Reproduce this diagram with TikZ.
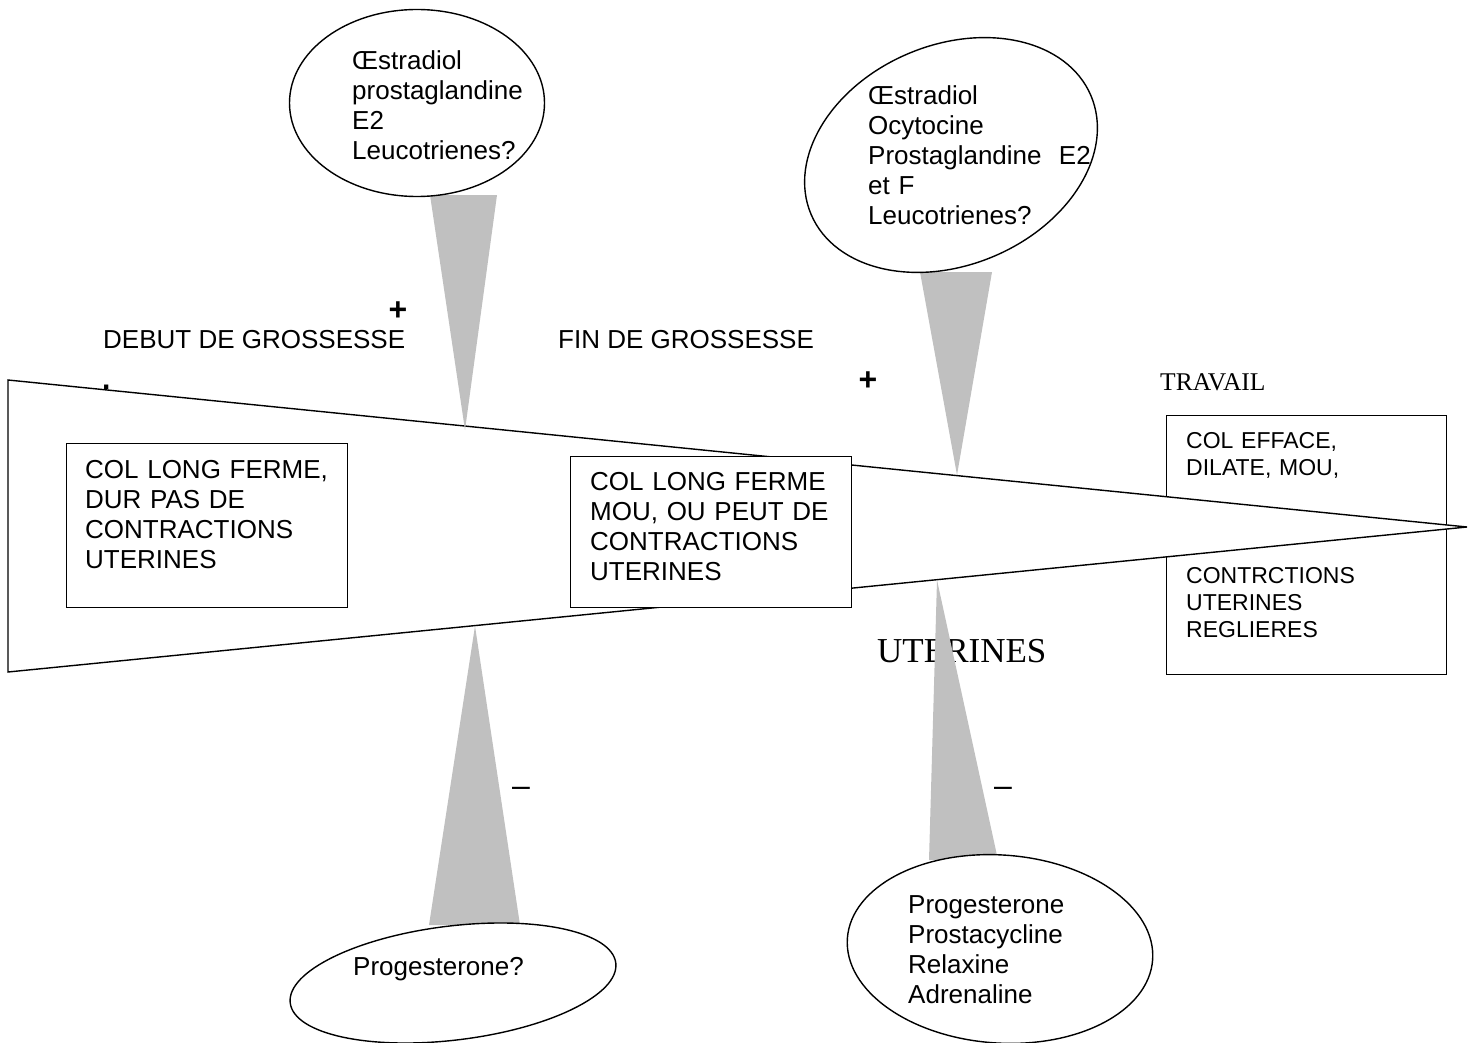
\documentclass[tikz,border=0pt]{standalone}
\usepackage{fontspec}
\setmainfont{Liberation Sans}
\newfontfamily\seriffont{Liberation Serif}
\usetikzlibrary{shapes.geometric}
\definecolor{trigray}{HTML}{C0C0C0}
\begin{document}
\begin{tikzpicture}[x=1pt,y=-1pt,
  box/.style={draw, fill=white, line width=1.4pt, inner sep=0pt, anchor=north west},
  bubble/.style={ellipse, draw, fill=white, line width=1.4pt, inner sep=0pt},
  body/.style={anchor=base west, inner sep=0pt, text width=300pt, align=left, font=\fontsize{26}{30}\selectfont},
  small/.style={anchor=base west, inner sep=0pt, text width=250pt, align=left, font=\fontsize{23}{27}\selectfont},
  label/.style={anchor=base west, inner sep=0pt, font=\fontsize{26}{30}\selectfont},
  sign/.style={inner sep=0pt, font=\fontsize{32}{36}\selectfont\bfseries},
  minus/.style={inner sep=0pt, font=\fontsize{32}{36}\selectfont},
  wedgeline/.style={draw, fill=white, line width=1.4pt, line join=miter},
  tri/.style={fill=trigray}
]
\useasboundingbox (0,0) rectangle (1471,1043);

% right box (behind the wedge)
\node[box, minimum width=280pt, minimum height=259pt] (b3) at (1166,415) {};
\node[small] (b3a) at (1186,448) {COL EFFACE,\\DILATE, MOU,};
\node[small] (b3b) at (1186,583) {CONTRCTIONS\\UTERINES\\REGLIERES};

% wedge
\coordinate (wtl) at (8,380);
\coordinate (wbl) at (8,672);
\coordinate (wtip) at (1467,527);
\path[wedgeline] (wtl) -- (wtip) -- (wbl) -- cycle;

% boxes
\node[box, minimum width=281pt, minimum height=164pt] (b1) at (66,443) {};
\node[body] (b1t) at (85,478) {COL LONG FERME,\\DUR PAS DE\\CONTRACTIONS\\UTERINES};
\node[box, minimum width=281pt, minimum height=151pt] (b2) at (570,456) {};
\node[body] (b2t) at (590,490) {COL LONG FERME\\MOU, OU PEUT DE\\CONTRACTIONS\\UTERINES};

% labels
\node[label] (debut) at (103,348) {DEBUT DE GROSSESSE};
\node[label] (fin) at (558,348) {FIN DE GROSSESSE};
\node[label, font=\fontsize{30}{30}\selectfont\bfseries] (dot) at (102,389) {.};
\node[sign] (plus1) at (398,311) {+};
\node[sign] (plus2) at (868,381) {+};
\node[inner sep=0pt, anchor=base west, font=\fontsize{25.5}{30}\seriffont] (travail) at (1160,390) {TRAVAIL};
\node[inner sep=0pt, anchor=base west, font=\fontsize{35}{40}\seriffont] (uter) at (877,662) {UTERINES};
\node[minus] (minus1) at (521,792) {–};
\node[minus] (minus2) at (1003,792) {–};

% gray wedges
\coordinate (t1) at (465,430);
\coordinate (t2) at (957,475);
\coordinate (t3) at (475,626);
\coordinate (t4) at (937,580);
\fill[tri] (430,195) -- (497,195) -- (t1) -- cycle;
\fill[tri] (920,272) -- (992,272) -- (t2) -- cycle;
\fill[tri] (429,925) -- (520,925) -- (t3) -- cycle;
\fill[tri] (929,860) -- (998,860) -- (t4) -- cycle;

% ellipses
\node[bubble, minimum width=255pt, minimum height=187pt] (e1) at (417,103) {};
\node[body] (e1t) at (352,70) {Œstradiol\\prostaglandine\\E2\\Leucotrienes?};
\node[bubble, minimum width=304pt, minimum height=220pt, rotate=23] (e2) at (951,155) {};
\node[body] (e2t) at (868,105) {Œstradiol\\Ocytocine\\Prostaglandine~ E2\\et F\\Leucotrienes?};
\node[bubble, minimum width=328pt, minimum height=114pt, rotate=7] (e3) at (453,983) {};
\node[body] (e3t) at (353,975) {Progesterone?};
\node[bubble, minimum width=306pt, minimum height=188pt, rotate=-4] (e4) at (1000,949) {};
\node[body] (e4t) at (908,913) {Progesterone\\Prostacycline\\Relaxine\\Adrenaline};
\end{tikzpicture}
\end{document}
